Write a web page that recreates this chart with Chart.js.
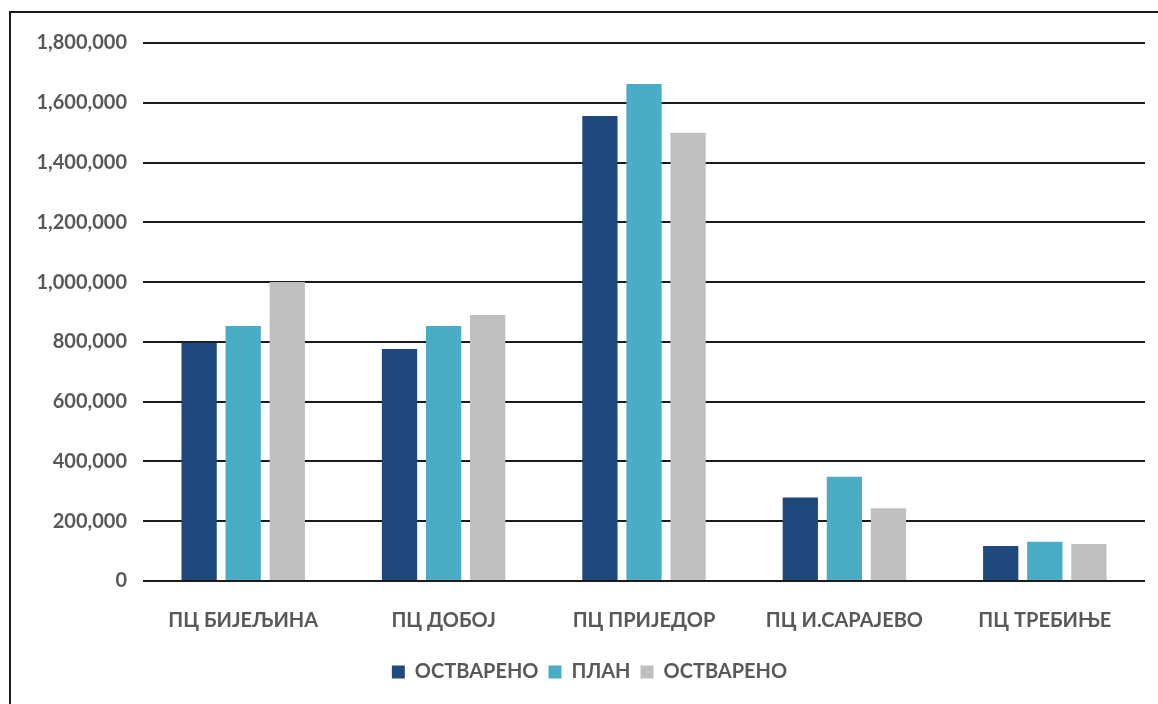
<!DOCTYPE html>
<html>
<head>
<meta charset="utf-8">
<script src="https://cdn.jsdelivr.net/npm/chart.js@4.4.1/dist/chart.umd.min.js"></script>
<style>
  html, body { margin: 0; padding: 0; background: #fff; }
  #wrap { position: absolute; left: 0; top: 0; width: 1158px; height: 704px; }
  #frame { position: absolute; left: 9px; top: 11px; width: 1200px; height: 800px;
    border-left: 2px solid #1a1a1a; border-top: 2px solid #1a1a1a; pointer-events: none; }
</style>
</head>
<body>
<div id="wrap"><canvas id="chart"></canvas></div>
<div id="frame"></div>
<script>
const categories = ['ПЦ БИЈЕЉИНА', 'ПЦ ДОБОЈ', 'ПЦ ПРИЈЕДОР', 'ПЦ И.САРАЈЕВО', 'ПЦ ТРЕБИЊЕ'];
const seriesLabels = ['ОСТВАРЕНО', 'ПЛАН', 'ОСТВАРЕНО'];
const ostvareno1 = [797000, 776000, 1556000, 279000, 117000];
const plan = [853000, 853000, 1663000, 349000, 131000];
const ostvareno2 = [1000000, 890000, 1500000, 243000, 124000];
const colors = ['#1F497D', '#4BACC6', '#BFBFBF'];

const font = { family: 'Lato, "Open Sans", sans-serif', size: 20, weight: 'bold' };

new Chart(document.getElementById('chart'), {
  type: 'bar',
  data: {
    labels: categories,
    datasets: [ostvareno1, plan, ostvareno2].map((data, i) => ({
      label: seriesLabels[i],
      data,
      backgroundColor: colors[i],
      categoryPercentage: 0.66,
      barPercentage: 0.8,
    })),
  },
  options: {
    responsive: true,
    maintainAspectRatio: false,
    animation: false,
    layout: { padding: { left: 34, right: 13, top: 43, bottom: 12 } },
    plugins: {
      tooltip: { enabled: false },
      legend: {
        position: 'bottom',
        labels: {
          font,
          color: '#595959',
          boxWidth: 13,
          boxHeight: 13,
          padding: 10,
        },
      },
    },
    scales: {
      x: {
        grid: { display: false },
        border: { display: false },
        ticks: { font, color: '#595959', padding: 20, maxRotation: 0 },
        afterFit: (scale) => { scale.height = 71; },
      },
      y: {
        min: 0,
        max: 1800000,
        ticks: {
          stepSize: 200000,
          font,
          color: '#595959',
          padding: 16,
          callback: (v) => v.toLocaleString('en-US'),
        },
        grid: { color: '#1a1a1a', lineWidth: 2, drawTicks: false },
        border: { display: false },
        afterFit: (scale) => { scale.width = 109; },
      },
    },
  },
});
</script>
</body>
</html>
